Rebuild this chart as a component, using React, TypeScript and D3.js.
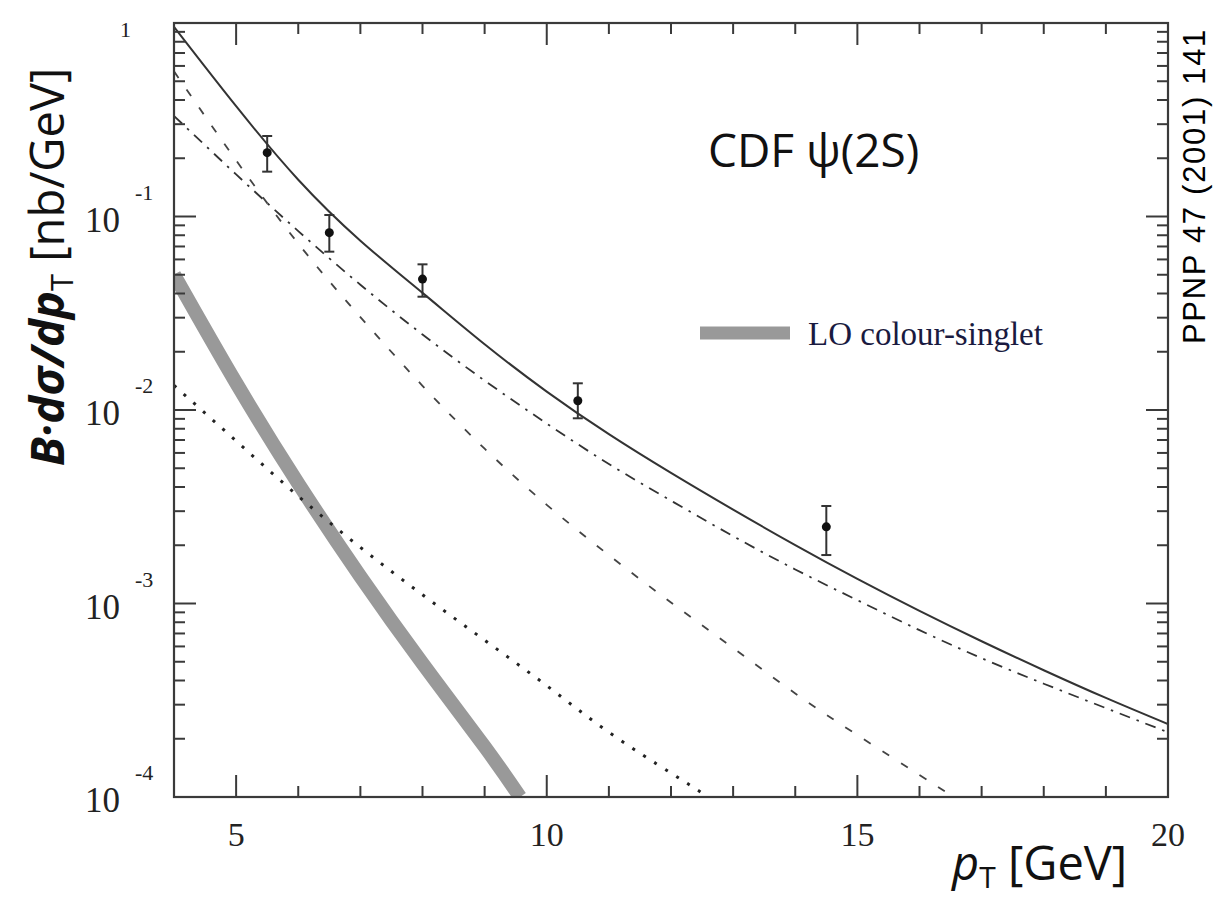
import React from "react";
import * as d3 from "d3";

// ---- data ----
const totalPt = [4, 5, 6, 7, 8, 9, 10, 11, 12, 13, 14, 15, 16, 17, 18, 19, 20];
const totalVals = [0.955, 0.3715, 0.1549, 0.075, 0.0403, 0.02188, 0.01245, 0.0075, 0.00473, 0.003055, 0.002004, 0.00134, 0.000916, 0.000638, 0.000452, 0.000325, 0.000238];

const dashDotPt = [4, 5, 6, 7, 8, 9, 10, 11, 12, 13, 14, 15, 16, 17, 18, 19, 20];
const dashDotVals = [0.331, 0.165, 0.0841, 0.0444, 0.02455, 0.01419, 0.00851, 0.00526, 0.0034, 0.00223, 0.0015, 0.00104, 0.000728, 0.000522, 0.000385, 0.000288, 0.000216];

const dashedPt = [4, 5, 6, 7, 8, 9, 10, 11, 12, 13, 14, 15, 16, 16.55];
const dashedVals = [0.5623, 0.195, 0.07244, 0.0302, 0.01334, 0.00631, 0.003236, 0.001778, 0.001012, 0.000589, 0.000343, 0.000209, 0.00013, 0.0001];

const dottedPt = [4, 5, 6, 7, 8, 9, 10, 11, 12, 12.6];
const dottedVals = [0.0134, 0.00692, 0.00359, 0.00195, 0.00111, 0.000646, 0.000376, 0.000216, 0.000133, 0.0001];

const singletPt = [4, 5, 6, 7, 8, 9, 9.57];
const singletVals = [0.0501, 0.0138, 0.00417, 0.00138, 0.00049, 0.000182, 0.0001];

const dataPt = [5.5, 6.5, 8, 10.5, 14.5];
const dataVals = [0.2138, 0.0825, 0.0475, 0.01117, 0.00249];
const dataHi = [0.2606, 0.1018, 0.0566, 0.01374, 0.00319];
const dataLo = [0.1705, 0.0658, 0.0385, 0.00906, 0.00178];

const xMajorTicks = [5, 10, 15, 20];
const xMinorTicks = [6, 7, 8, 9, 11, 12, 13, 14, 16, 17, 18, 19];
const yMajorExp = [0, -1, -2, -3, -4];
const yMinorMult = [2, 3, 4, 5, 6, 7, 8, 9];

const W = 1232;
const H = 898;
const L = 174, R = 1168, T = 23, B = 797;

export default function App() {
  const x = d3.scaleLinear().domain([4, 20]).range([L, R]);
  const y = d3.scaleLog().domain([1e-4, 1]).range([B, T]);

  const line = (pts: number[], vals: number[]) =>
    d3
      .line<number>()
      .x((_, i) => x(pts[i]))
      .y((d) => y(d))
      .curve(d3.curveNatural)(vals) as string;

  const yMinor: number[] = [];
  for (const e of [-4, -3, -2, -1]) for (const m of yMinorMult) yMinor.push(m * Math.pow(10, e));

  const axisColor = "#3a3a3a";
  const serif = "'Liberation Serif', 'Times New Roman', serif";
  const sans = "'Open Sans', 'Noto Sans', sans-serif";

  return (
    <svg width={W} height={H} style={{ position: "absolute", left: 0, top: 0, background: "#fff" }}>
      <defs>
        <clipPath id="plot">
          <rect x={L} y={T} width={R - L} height={B - T} />
        </clipPath>
      </defs>
      <rect x={0} y={0} width={W} height={H} fill="#fff" />

      {/* curves */}
      <g clipPath="url(#plot)" fill="none">
        <path d={line(singletPt, singletVals)} stroke="#999" strokeWidth={14} />
        <path d={line(totalPt, totalVals)} stroke="#333" strokeWidth={2} />
        <path d={line(dashDotPt, dashDotVals)} stroke="#333" strokeWidth={1.8} strokeDasharray="11 7 2.5 7" />
        <path d={line(dashedPt, dashedVals)} stroke="#444" strokeWidth={1.8} strokeDasharray="8 14" />
        <path d={line(dottedPt, dottedVals)} stroke="#222" strokeWidth={3} strokeDasharray="3 10" />
      </g>

      {/* data points */}
      <g>
        {dataPt.map((p, i) => (
          <g key={i} stroke="#333" strokeWidth={2}>
            <line x1={x(p)} x2={x(p)} y1={y(dataHi[i])} y2={y(dataLo[i])} />
            <line x1={x(p) - 5} x2={x(p) + 5} y1={y(dataHi[i])} y2={y(dataHi[i])} />
            <line x1={x(p) - 5} x2={x(p) + 5} y1={y(dataLo[i])} y2={y(dataLo[i])} />
            <circle cx={x(p)} cy={y(dataVals[i])} r={4.5} fill="#111" stroke="none" />
          </g>
        ))}
      </g>

      {/* frame */}
      <rect x={L} y={T} width={R - L} height={B - T} fill="none" stroke={axisColor} strokeWidth={2.2} />

      {/* ticks */}
      <g stroke={axisColor} strokeWidth={2}>
        {xMajorTicks.map((t) => (
          <g key={"xM" + t}>
            <line x1={x(t)} x2={x(t)} y1={B} y2={B - 22} />
            <line x1={x(t)} x2={x(t)} y1={T} y2={T + 22} />
          </g>
        ))}
        {xMinorTicks.map((t) => (
          <g key={"xm" + t}>
            <line x1={x(t)} x2={x(t)} y1={B} y2={B - 11} />
            <line x1={x(t)} x2={x(t)} y1={T} y2={T + 11} />
          </g>
        ))}
        {yMajorExp.map((e) => (
          <g key={"yM" + e}>
            <line x1={L} x2={L + 22} y1={y(Math.pow(10, e))} y2={y(Math.pow(10, e))} />
            <line x1={R} x2={R - 22} y1={y(Math.pow(10, e))} y2={y(Math.pow(10, e))} />
          </g>
        ))}
        {yMinor.map((v, i) => (
          <g key={"ym" + i}>
            <line x1={L} x2={L + 11} y1={y(v)} y2={y(v)} />
            <line x1={R} x2={R - 11} y1={y(v)} y2={y(v)} />
          </g>
        ))}
      </g>

      {/* x tick labels */}
      <g fontFamily={serif} fontSize={34} fill="#222" textAnchor="middle">
        {xMajorTicks.map((t) => (
          <text key={"xl" + t} x={x(t)} y={846}>
            {t}
          </text>
        ))}
      </g>

      {/* y tick labels */}
      <g fontFamily={serif} fill="#222">
        {yMajorExp.map((e) => {
          const yy = y(Math.pow(10, e));
          if (e === 0)
            return (
              <text key="y0" x={131} y={yy + 14} fontSize={22} textAnchor="end">
                1
              </text>
            );
          return (
            <g key={"yl" + e}>
              <text x={120} y={yy + 15} fontSize={35} textAnchor="end">
                10
              </text>
              <text x={135} y={yy - 17} fontSize={22} textAnchor="start">
                {"-" + -e}
              </text>
            </g>
          );
        })}
      </g>

      {/* axis titles */}
      <text x={952} y={880} fontFamily={sans} fontSize={47} fill="#111">
        <tspan fontStyle="italic">p</tspan>
        <tspan fontSize={30} dy={8}>T</tspan>
        <tspan dy={-8}> [GeV]</tspan>
      </text>

      <text
        transform="translate(64, 267) rotate(-90)"
        textAnchor="middle"
        fontFamily={sans}
        fontSize={47}
        fill="#111"
      >
        <tspan fontStyle="italic" fontWeight="bold">B·dσ/dp</tspan>
        <tspan fontSize={31} dy={9}>T</tspan>
        <tspan dy={-9}> [nb/GeV]</tspan>
      </text>

      {/* annotation */}
      <text x={708} y={167} fontFamily={sans} fontSize={46} fill="#111">
        CDF ψ(2S)
      </text>

      {/* legend */}
      <line x1={700} x2={790} y1={333} y2={333} stroke="#999" strokeWidth={13} />
      <text x={808} y={345} fontFamily={serif} fontSize={33} fill="#1a1a40">
        LO colour-singlet
      </text>

      {/* side reference */}
      <text
        transform="translate(1205, 186) rotate(-90)"
        textAnchor="middle"
        fontFamily="'Liberation Sans', Arial, sans-serif"
        fontSize={31}
        letterSpacing={1.7}
        fill="#000"
      >
        PPNP 47 (2001) 141
      </text>
    </svg>
  );
}
